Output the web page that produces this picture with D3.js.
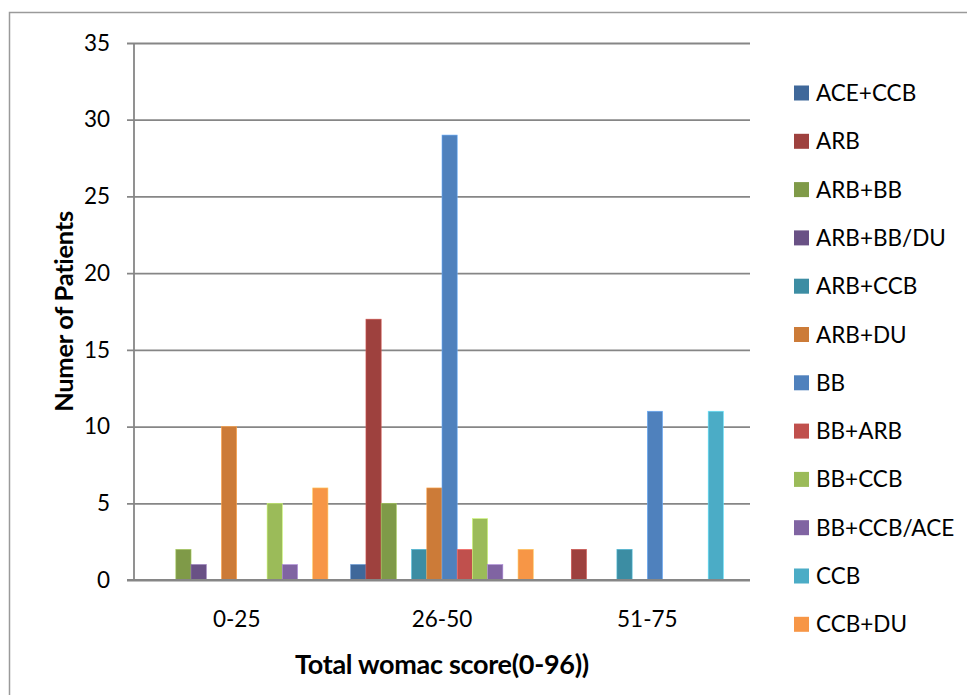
<!DOCTYPE html>
<html>
<head>
<meta charset="utf-8">
<script src="https://cdn.jsdelivr.net/npm/d3@7"></script>
<style>
  html, body { margin: 0; padding: 0; background: #fff; }
  svg { display: block; }
  text { font-family: Lato, "Open Sans", sans-serif; fill: #000; }
</style>
</head>
<body>
<svg id="chart" width="967" height="695"></svg>
<script>
// Score bands on the x axis
const categories = ["0-25", "26-50", "51-75"];

// Drug regimens, one series each
const seriesNames = ["ACE+CCB", "ARB", "ARB+BB", "ARB+BB/DU", "ARB+CCB", "ARB+DU",
                     "BB", "BB+ARB", "BB+CCB", "BB+CCB/ACE", "CCB", "CCB+DU"];

// Patient counts per regimen, in category order
const aceCcb    = [0, 1, 0];
const arb       = [0, 17, 2];
const arbBb     = [2, 5, 0];
const arbBbDu   = [1, 0, 0];
const arbCcb    = [0, 2, 2];
const arbDu     = [10, 6, 0];
const bb        = [0, 29, 11];
const bbArb     = [0, 2, 0];
const bbCcb     = [5, 4, 0];
const bbCcbAce  = [1, 1, 0];
const ccb       = [0, 0, 11];
const ccbDu     = [6, 2, 0];

const yTicks = [0, 5, 10, 15, 20, 25, 30, 35];

const seriesValues = [aceCcb, arb, arbBb, arbBbDu, arbCcb, arbDu,
                      bb, bbArb, bbCcb, bbCcbAce, ccb, ccbDu];

const colors = ["#3F689A", "#9E413E", "#7F9A48", "#695185", "#3C8DA3", "#CC7B38",
                "#4F81BD", "#C0504D", "#9BBB59", "#8064A2", "#4BACC6", "#F79646"];

const svg = d3.select("#chart");

// Outer chart frame
svg.append("rect")
  .attr("x", 9.5).attr("y", 12.5)
  .attr("width", 1000).attr("height", 800)
  .attr("fill", "none").attr("stroke", "#9a9a9a").attr("stroke-width", 1.5);

const plot = { left: 134, right: 750, top: 43, bottom: 580 };

const x0 = d3.scaleBand().domain(categories).range([plot.left, plot.right]).padding(0);
const x1 = d3.scaleBand().domain(seriesNames).range([0, x0.bandwidth()])
  .paddingInner(0).paddingOuter(0.75);
const y = d3.scaleLinear().domain([0, 35]).range([plot.bottom, plot.top]);
const color = d3.scaleOrdinal().domain(seriesNames).range(colors);

// Horizontal gridlines with tick marks on the value axis
const yAxis = d3.axisLeft(y).tickValues(yTicks)
  .tickSize(-(plot.right - plot.left)).tickSizeOuter(0).tickPadding(24);
const yg = svg.append("g").attr("transform", `translate(${plot.left},0)`).call(yAxis);
yg.select(".domain").remove();
yg.selectAll(".tick line")
  .attr("x1", -7)
  .attr("stroke", "#868686").attr("stroke-width", 1.8);
yg.selectAll(".tick text")
  .attr("font-size", 22.5).attr("font-family", "Lato, sans-serif").attr("fill", "#000");

// Vertical value-axis line
svg.append("line")
  .attr("x1", plot.left).attr("x2", plot.left)
  .attr("y1", plot.top).attr("y2", plot.bottom)
  .attr("stroke", "#868686").attr("stroke-width", 1.8);

// Bars
const rows = [];
seriesNames.forEach((name, si) => {
  categories.forEach((cat, ci) => {
    const v = seriesValues[si][ci];
    if (v > 0) rows.push({ name, cat, v });
  });
});

svg.append("g").selectAll("rect")
  .data(rows)
  .join("rect")
  .attr("x", d => x0(d.cat) + x1(d.name))
  .attr("y", d => y(d.v))
  .attr("width", x1.bandwidth())
  .attr("height", d => y(0) - y(d.v))
  .attr("fill", d => color(d.name))
  .attr("stroke", d => d3.color(color(d.name)).brighter(0.8))
  .attr("stroke-width", 0.6);

// Category axis
const xAxis = d3.axisBottom(x0).tickSize(0).tickPadding(0);
const xg = svg.append("g").attr("transform", `translate(0,${plot.bottom})`).call(xAxis);
xg.select(".domain").attr("stroke", "#868686").attr("stroke-width", 1.8)
  .attr("d", `M${plot.left - 7},0H${plot.right}`);
xg.selectAll(".tick text")
  .attr("y", 47).attr("dy", 0)
  .attr("font-size", 22.5).attr("font-family", "Lato, sans-serif").attr("fill", "#000");

// Axis titles
svg.append("text")
  .attr("x", (plot.left + plot.right) / 2).attr("y", 674)
  .attr("text-anchor", "middle")
  .attr("font-size", 27).attr("font-weight", "bold")
  .attr("letter-spacing", -0.3)
  .text("Total womac score(0-96))");

svg.append("text")
  .attr("transform", `translate(73,${(plot.top + plot.bottom) / 2}) rotate(-90)`)
  .attr("text-anchor", "middle")
  .attr("font-size", 25.5).attr("font-weight", "bold")
  .attr("letter-spacing", -0.3)
  .text("Numer of Patients");

// Legend
const legend = svg.append("g").selectAll("g")
  .data(seriesNames)
  .join("g")
  .attr("transform", (d, i) => `translate(794,${93 + i * 48.3})`);
legend.append("rect")
  .attr("x", 0).attr("y", -7.5).attr("width", 15).attr("height", 15)
  .attr("fill", d => color(d));
legend.append("text")
  .attr("x", 22).attr("y", 8)
  .attr("font-size", 22.5)
  .text(d => d);
</script>
</body>
</html>
